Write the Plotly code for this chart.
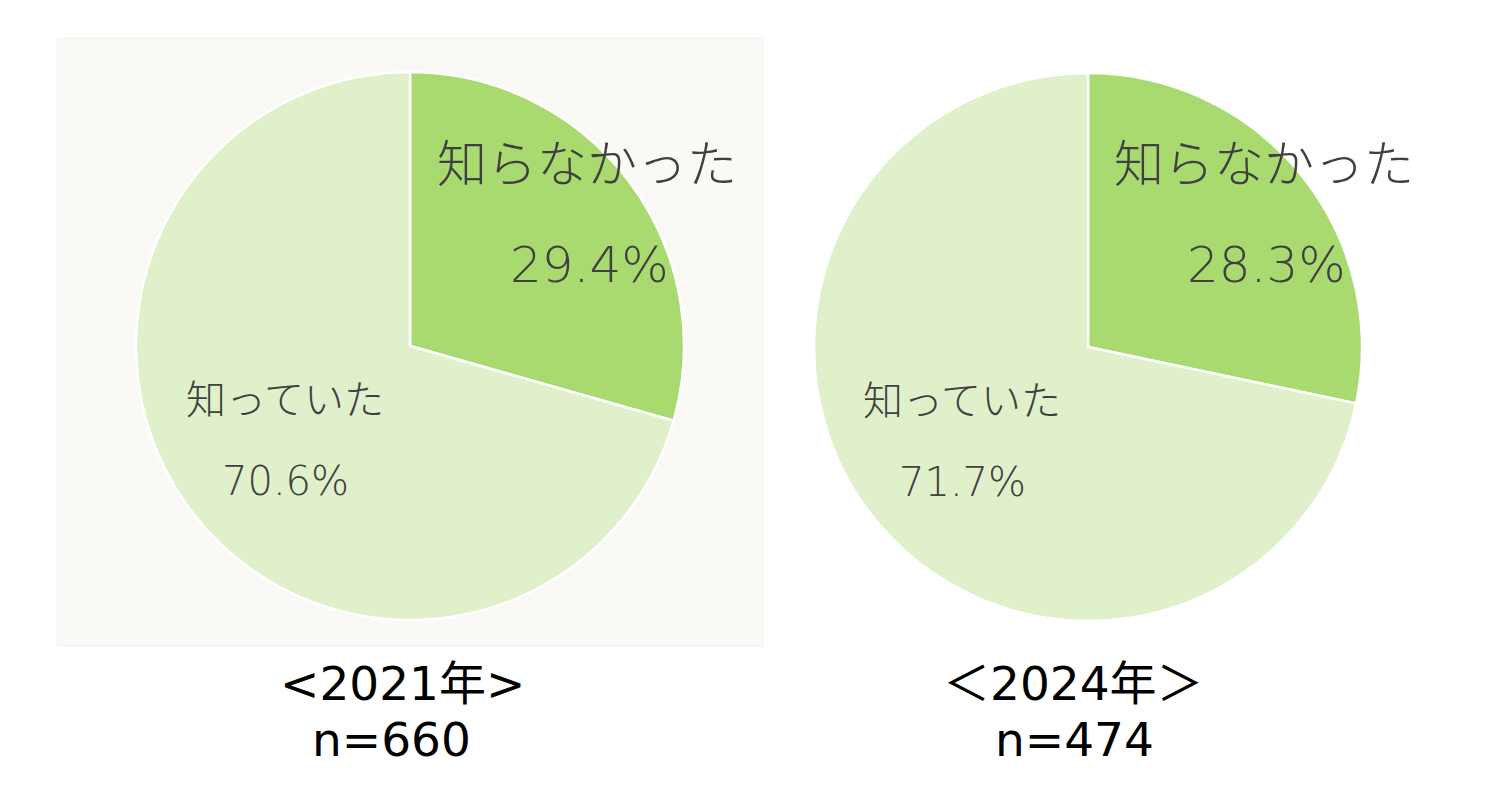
import plotly.graph_objects as go

W, H = 1499, 805

categories = ["知らなかった", "知っていた"]
values_2021 = [29.4, 70.6]
values_2024 = [28.3, 71.7]
years = ["<2021年>", "＜2024年＞"]
ns = ["n=660", "n=474"]
colors = ["#A8DA70", "#DFF0CB"]

LABEL_FONT = "DejaVu Sans, Noto Sans CJK JP, sans-serif"
TITLE_FONT = "DejaVu Sans, Noto Sans CJK JP, sans-serif"


def px_x(x):
    return x / W


def px_y(y):
    return 1 - y / H


fig = go.Figure()

centers = [(410, 346), (1088, 347)]
R = 274
for vals, (cx, cy) in zip([values_2021, values_2024], centers):
    fig.add_trace(go.Pie(
        labels=categories, values=vals, sort=False, direction="clockwise",
        rotation=0, marker=dict(colors=colors, line=dict(color="white", width=2.5)),
        textinfo="none", hoverinfo="label+percent", showlegend=False,
        domain=dict(x=[px_x(cx - R), px_x(cx + R)], y=[px_y(cy + R), px_y(cy - R)]),
    ))

shapes = [dict(type="rect", xref="paper", yref="paper", layer="below",
               x0=px_x(57), x1=px_x(763), y0=px_y(646), y1=px_y(38),
               fillcolor="#FAF9F6", line=dict(color="#F3F2EE", width=1))]

annotations = []
label_pos = [
    ((587, 165), (589, 265), (285, 400), (285, 481)),
    ((1264, 165), (1266, 265), (962, 401), (962, 482)),
]
TXT = "#404040"
for vals, (bl, bp, sl, sp) in zip([values_2021, values_2024], label_pos):
    annotations.append(dict(x=px_x(bl[0]), y=px_y(bl[1]), text=categories[0],
                            font=dict(size=50, color=TXT, family=LABEL_FONT, weight=300)))
    annotations.append(dict(x=px_x(bp[0]), y=px_y(bp[1]), text=f"{vals[0]:.1f}%",
                            font=dict(size=50, color=TXT, family=LABEL_FONT, weight=300)))
    annotations.append(dict(x=px_x(sl[0]), y=px_y(sl[1]), text=categories[1],
                            font=dict(size=40, color=TXT, family=LABEL_FONT, weight=300)))
    annotations.append(dict(x=px_x(sp[0]), y=px_y(sp[1]), text=f"{vals[1]:.1f}%",
                            font=dict(size=40, color=TXT, family=LABEL_FONT, weight=300)))

title_pos = [((403, 683), (391, 739)), ((1073, 683), (1074, 739))]
for yr, n, (tp, np_) in zip(years, ns, title_pos):
    annotations.append(dict(x=px_x(tp[0]), y=px_y(tp[1]), text=yr,
                            font=dict(size=47, color="#000000", family=TITLE_FONT)))
    annotations.append(dict(x=px_x(np_[0]), y=px_y(np_[1]), text=n,
                            font=dict(size=47, color="#000000", family=TITLE_FONT)))

for a in annotations:
    a.update(xref="paper", yref="paper", showarrow=False, xanchor="center", yanchor="middle")

fig.update_layout(width=W, height=H, margin=dict(l=0, r=0, t=0, b=0),
                  paper_bgcolor="white", plot_bgcolor="white",
                  shapes=shapes, annotations=annotations)

fig.write_html("out.html", config={"displayModeBar": False},
               post_script="document.body.style.margin='0px';document.body.style.overflow='hidden';")
